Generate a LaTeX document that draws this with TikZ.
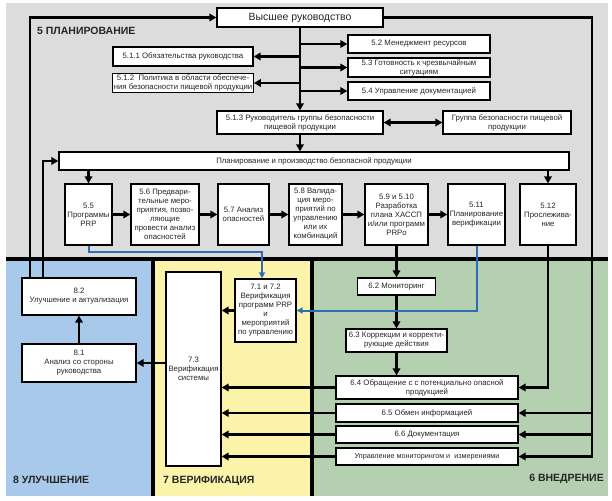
\documentclass[tikz,border=0pt]{standalone}
\usepackage{fontspec}
\setmainfont{Liberation Sans}
\usetikzlibrary{arrows.meta}
\definecolor{bggray}{RGB}{221,220,220}
\definecolor{bgblue}{RGB}{168,201,233}
\definecolor{bgyellow}{RGB}{251,243,170}
\definecolor{bggreen}{RGB}{181,208,177}
\definecolor{linkblue}{RGB}{44,110,182}
\begin{document}
\begin{tikzpicture}[x=1pt,y=-1pt,
  box/.style={draw=black, line width=1.3pt, fill=white, align=center, inner sep=1pt,
    font=\fontsize{7.8}{9}\selectfont, text=black!85},
  arr/.style={line width=2.4pt, -{Triangle[length=7pt,width=7.5pt]}},
  dblarr/.style={line width=2.4pt, {Triangle[length=7pt,width=7.5pt]}-{Triangle[length=7pt,width=7.5pt]}},
  plain/.style={line width=2.4pt},
  barr/.style={draw=linkblue, line width=2pt, -{Triangle[length=6pt,width=6pt]}},
  sep/.style={line width=4pt},
  sect/.style={font=\fontsize{10.5}{12}\selectfont\bfseries, text=black!85, inner sep=0pt}
]
\useasboundingbox (0,0) rectangle (612,500);
% panels
\fill[bggray] (6,3) rectangle (608,259);
\fill[bgblue] (6,259) rectangle (153,496);
\fill[bgyellow] (153,259) rectangle (312,496);
\fill[bggreen] (312,259) rectangle (608,496);
\draw[sep] (6,259) -- (608,259);
\draw[sep] (153,259) -- (153,496);
\draw[sep] (312,259) -- (312,496);

% section labels
\node[sect, anchor=west] (s5) at (37,31) {5 ПЛАНИРОВАНИЕ};
\node[sect, anchor=west] (s8) at (13,480) {8 УЛУЧШЕНИЕ};
\node[sect, anchor=west] (s7) at (163,481) {7 ВЕРИФИКАЦИЯ};
\node[sect, anchor=east] (s6) at (604,479) {6 ВНЕДРЕНИЕ};

% planning boxes
\node[box, minimum width=166pt, minimum height=19pt, font=\fontsize{10.5}{12}\selectfont] (top) at (300,17.5) {Высшее руководство};
\node[box, minimum width=140pt, minimum height=19pt] (b511) at (183,56.5) {5.1.1 Обязательства руководства};
\node[box, minimum width=140pt, minimum height=18pt] (b512) at (183,83) {5.1.2\ \ Политика в области обеспече-\\ния безопасности пищевой продукции};
\node[box, minimum width=142pt, minimum height=18pt] (b52) at (419,44) {5.2 Менеджмент ресурсов};
\node[box, minimum width=142pt, minimum height=19pt] (b53) at (419,67.5) {5.3 Готовность к чрезвычайным\\ситуациям};
\node[box, minimum width=142pt, minimum height=18pt] (b54) at (419,91) {5.4 Управление документацией};
\node[box, minimum width=166pt, minimum height=23pt] (b513) at (300,122.5) {5.1.3 Руководитель группы безопасности\\пищевой продукции};
\node[box, minimum width=128pt, minimum height=23pt] (grp) at (507,122.5) {Группа безопасности пищевой\\продукции};
\node[box, minimum width=510pt, minimum height=18pt] (plan) at (314,161) {Планирование и производство безопасной продукции};

\node[box, minimum width=47pt, minimum height=61pt] (b55) at (88.5,214.5) {5.5\\Программы\\PRP};
\node[box, minimum width=68pt, minimum height=61pt] (b56) at (165,214.5) {5.6 Предвари-\\тельные меро-\\приятия, позво-\\ляющие\\провести анализ\\опасностей};
\node[box, minimum width=51pt, minimum height=61pt] (b57) at (243.5,214.5) {5.7 Анализ\\опасностей};
\node[box, minimum width=53pt, minimum height=61pt] (b58) at (315.5,214.5) {5.8 Валида-\\ция меро-\\приятий по\\управлению\\или их\\комбинаций};
\node[box, minimum width=63pt, minimum height=61pt] (b59) at (396.5,214.5) {5.9 и 5.10\\Разработка\\плана ХАССП\\и/или программ\\PRPo};
\node[box, minimum width=57pt, minimum height=61pt] (b511v) at (476.5,214.5) {5.11\\Планирование\\верификации};
\node[box, minimum width=56pt, minimum height=61pt] (b512t) at (548,214.5) {5.12\\Прослежива-\\ние};

% implementation boxes
\node[box, minimum width=78pt, minimum height=17pt] (b62) at (396.5,286.5) {6.2 Мониторинг};
\node[box, minimum width=101pt, minimum height=23pt] (b63) at (396.5,340.5) {6.3 Коррекции и корректи-\\рующие действия};
\node[box, minimum width=182pt, minimum height=23pt] (b64) at (427,387.5) {6.4 Обращение с с потенциально опасной\\продукцией};
\node[box, minimum width=182pt, minimum height=18pt] (b65) at (427,413) {6.5 Обмен информацией};
\node[box, minimum width=182pt, minimum height=17pt] (b66) at (427,434.5) {6.6 Документация};
\node[box, minimum width=182pt, minimum height=17pt, font=\fontsize{7.2}{9}\selectfont] (upr) at (427,456.5) {Управление мониторингом и\ \ измерениями};

% verification boxes
\node[box, minimum width=55pt, minimum height=194pt] (b73) at (193.5,369) {7.3\\Верификация\\системы};
\node[box, minimum width=61pt, minimum height=63pt] (b71) at (265.5,310.5) {7.1 и 7.2\\Верификация\\программ PRP\\и\\мероприятий\\по управлению};

% improvement boxes
\node[box, minimum width=114pt, minimum height=37pt] (b82) at (79,296.5) {8.2\\Улучшение и актуализация};
\node[box, minimum width=114pt, minimum height=38pt] (b81) at (79,363) {8.1\\Анализ со стороны\\руководства};

% helper coordinates
\coordinate (lx1) at (30,0);
\coordinate (lx2) at (43,0);
\coordinate (rx) at (592,0);
\coordinate (bl1) at (262,252);

% connectors: top
\draw[arr] (b82.north -| lx1) |- (top.west);
\draw[arr] (b82.north -| lx2) |- (plan.west);
\draw[arr] (top.east) -| (rx |- upr.east) -- (upr.east);
\draw[arr] (rx |- b65.east) -- (b65.east);
\draw[arr] (rx |- b66.east) -- (b66.east);
\draw[arr] (top.south) -- (b513.north);
\draw[arr] (top.south |- b511.east) -- (b511.east);
\draw[arr] (top.south |- b512.east) -- (b512.east);
\draw[arr] (top.south |- b52.west) -- (b52.west);
\draw[arr] (top.south |- b53.west) -- (b53.west);
\draw[arr] (top.south |- b54.west) -- (b54.west);
\draw[dblarr] (b513.east) -- (grp.west);
\draw[arr] (b513.south) -- (b513.south |- plan.north);
\draw[arr] (b55.north |- plan.south) -- (b55.north);
\draw[arr] (b512t.north |- plan.south) -- (b512t.north);
% row
\draw[arr] (b55.east) -- (b56.west);
\draw[arr] (b56.east) -- (b57.west);
\draw[arr] (b57.east) -- (b58.west);
\draw[arr] (b58.east) -- (b59.west);
\draw[arr] (b59.east) -- (b511v.west);
% down to implementation
\draw[arr] (b59.south) -- (b62.north);
\draw[arr] (b62.south) -- (b63.north);
\draw[arr] (b63.south) -- (b63.south |- b64.north);
\draw[arr] (b512t.south) |- (b64.east);
% to verification
\draw[arr] (b64.west) -- (b64.west -| b73.east);
\draw[arr] (b65.west) -- (b65.west -| b73.east);
\draw[arr] (b66.west) -- (b66.west -| b73.east);
\draw[arr] (upr.west) -- (upr.west -| b73.east);
\draw[arr] (b71.west) -- (b71.west -| b73.east);
\draw[arr] (b81.east -| b73.west) -- (b81.east);
\draw[arr] (b81.north) -- (b82.south);
% blue
\draw[barr] (b55.south) |- (bl1) -- (bl1 |- b71.north);
\draw[barr] (b511v.south) |- (b71.east);
\end{tikzpicture}
\end{document}
